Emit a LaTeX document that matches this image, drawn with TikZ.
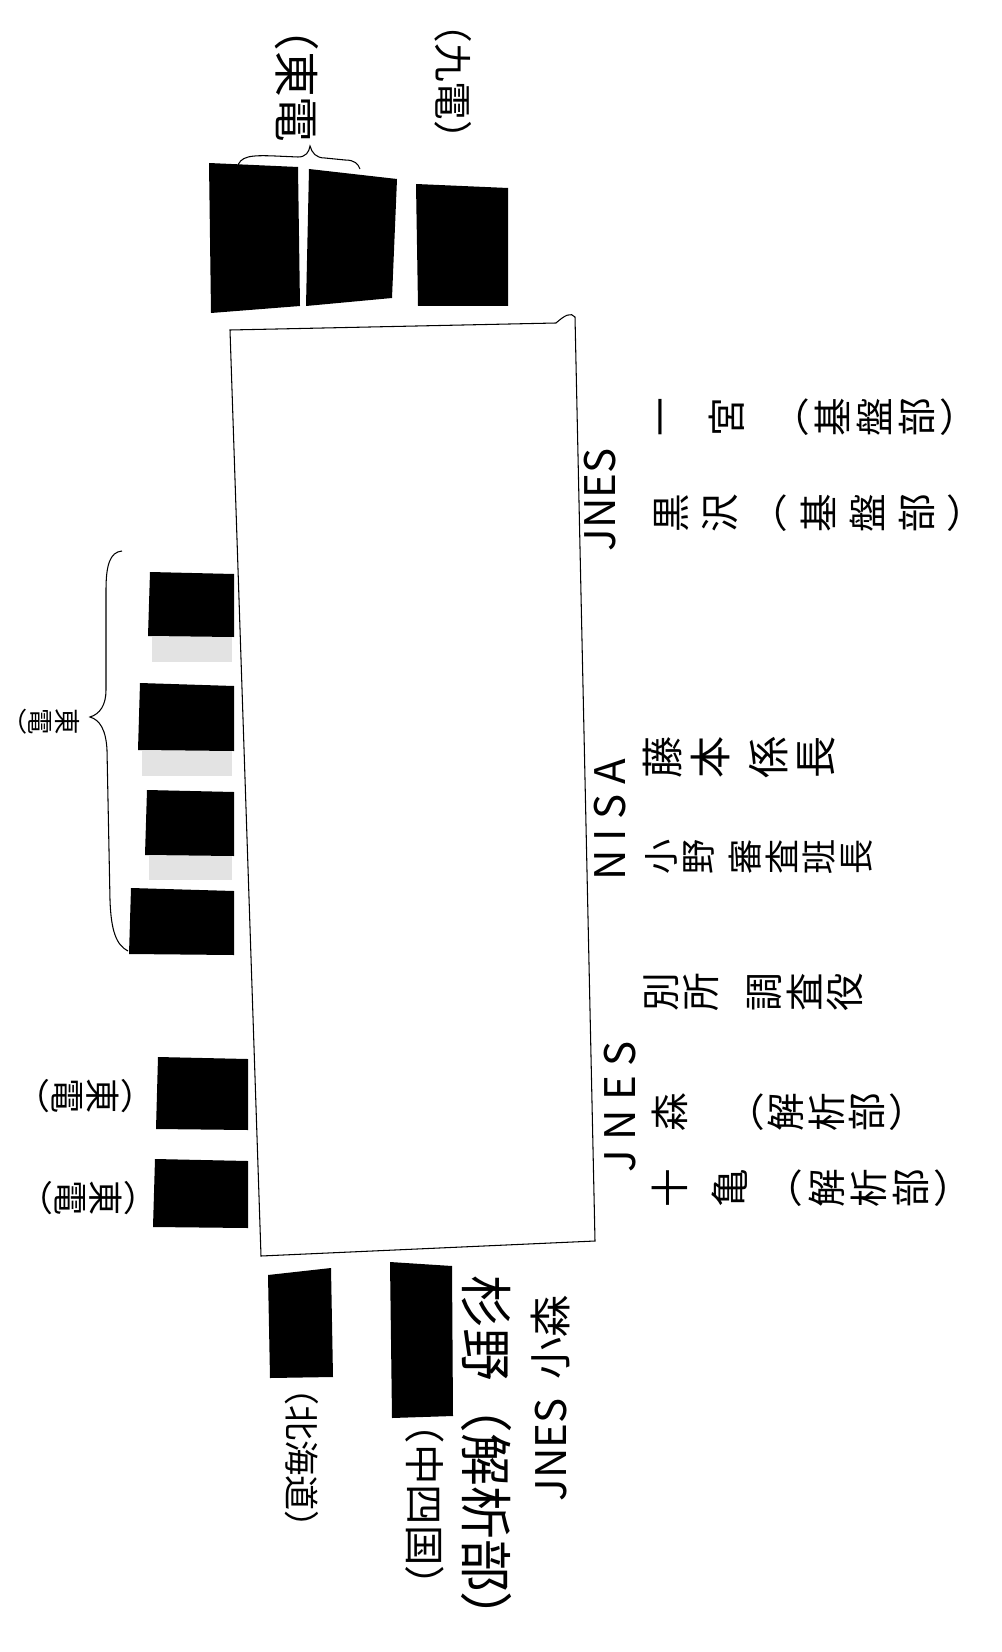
\documentclass[tikz,border=0pt]{standalone}
\usepackage{fontspec}
\newfontfamily\jp{Noto Sans CJK JP}
\tikzset{
  seat/.style={fill=black},
  stipple/.style={fill=black!11},
  hand/.style={line width=0.6pt},
  vline/.style={rotate=90, anchor=north, inner sep=0pt, align=center, font=\jp\fontsize{22pt}{#1}\selectfont},
  vline/.default=24pt,
  vlab/.style={rotate=-90, inner sep=0pt, align=center, font=\jp\fontsize{#1}{#1}\selectfont},
  rlab/.style={rotate=-90, inner sep=0pt, font=\jp\fontsize{#1}{#1}\selectfont},
  llab/.style={rotate=90, inner sep=0pt, font=\jp\fontsize{#1}{#1}\selectfont}
}
\begin{document}
\begin{tikzpicture}[x=0.02cm, y=-0.02cm]
\useasboundingbox (0,0) rectangle (1001,1652);
\draw[hand] (230,330) -- (556,323) .. controls (565,315) and (571,312) .. (575,317) -- (595,1241) -- (261,1256) -- cycle;
\fill[seat] (209,163) -- (298,167) -- (300,306) -- (211,313) -- cycle;
\fill[seat] (309,169) -- (397,179) -- (392,298) -- (306,306) -- cycle;
\fill[seat] (416,184) -- (508,188) -- (508,306) -- (418,306) -- cycle;
\fill[seat] (150,572) -- (234,574) -- (234,637) -- (148,636) -- cycle;
\fill[stipple] (152,637) rectangle (232,662);
\fill[seat] (140,683) -- (234,686) -- (234,751) -- (138,750) -- cycle;
\fill[stipple] (142,751) rectangle (232,776);
\fill[seat] (147,790) -- (234,792) -- (234,856) -- (145,855) -- cycle;
\fill[stipple] (149,856) rectangle (232,880);
\fill[seat] (131,888) -- (234,891) -- (234,955) -- (129,954) -- cycle;
\fill[seat] (158,1057) -- (248,1059) -- (248,1130) -- (156,1129) -- cycle;
\fill[seat] (155,1159) -- (248,1161) -- (248,1228) -- (153,1227) -- cycle;
\fill[seat] (268,1275) -- (331,1268) -- (333,1377) -- (270,1378) -- cycle;
\fill[seat] (390,1262) -- (452,1266) -- (453,1416) -- (392,1418) -- cycle;
\draw[hand] (237,168) .. controls (240,156) and (250,155) .. (275,156) -- (298,157) .. controls (306,157) and (309,152) .. (310,146) .. controls (312,153) and (316,158) .. (325,158) -- (345,160) .. controls (355,160) and (358,164) .. (360,169);
\draw[hand] (122,551) .. controls (110,552) and (106,565) .. (106,590) -- (106,690) .. controls (106,705) and (100,714) .. (90,717) .. controls (100,720) and (106,730) .. (107,750) -- (110,900) .. controls (111,930) and (116,945) .. (128,951);
\node[rlab=26pt] (lbltoden) at (297,74) {（東電};
\node[rlab=22pt] (lblkyuden) at (453,82) {（九電）};
\node[vlab=15pt] (lbltepco) at (42,722) {東\\電\\︶};
\node[vlab=20pt] (lbltepcoa) at (75,1096) {︵\\東\\電\\︶};
\node[vlab=20pt] (lbltepcob) at (78,1198) {︵\\東\\電\\︶};
\node[rlab=20pt] (lblhokkaido) at (302,1458) {（北海道）};
\node[rlab=23pt] (lblshikoku) at (425,1505) {（中四国）};
\node[rlab=30pt] (lblsugino) at (487,1460) {杉野（解析部）};
\node[llab=24pt] (lblkomori) at (550,1398) {JNES\ \ 小森};
\node[llab=24pt] (jnesa) at (600,500) {JNES};
\node[llab=24pt] (nisa) at (610,820) {N I S A};
\node[llab=24pt] (jnesb) at (620,1107) {J N E S};
\node[vline] (ichimiya) at (658,417) {一\\[14pt]宮\\[12pt]︵\\基\\盤\\部\\︶};
\node[vline=28pt] (kurosawa) at (654,513) {黒\\沢\\︵\\基\\盤\\部\\︶};
\node[vline, font=\jp\fontsize{24pt}{27pt}\selectfont] (fujimoto) at (643,757) {藤\\本\\[6pt]係\\長};
\node[vline, font=\jp\fontsize{20pt}{21pt}\selectfont] (ono) at (645,857) {小\\野\\[6pt]審\\査\\班\\長};
\node[vline=23pt] (bessho) at (643,992) {別\\所\\[13pt]調\\査\\役};
\node[vline=23pt] (mori) at (652,1112) {森\\[20pt]︵\\解\\析\\部\\︶};
\node[vline=24pt] (sogame) at (652,1188) {十\\[10pt]亀\\[7pt]︵\\解\\析\\部\\︶};
\end{tikzpicture}
\end{document}
